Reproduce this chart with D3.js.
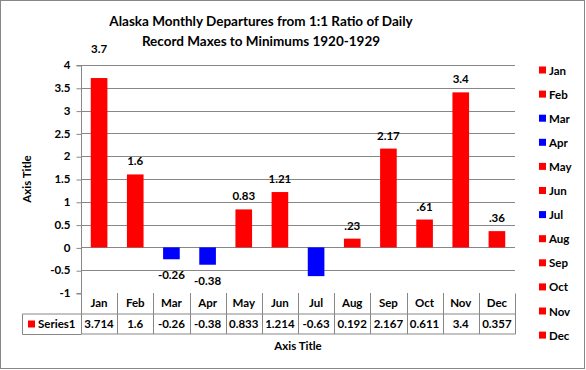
<!DOCTYPE html>
<html>
<head>
<meta charset="utf-8">
<script src="https://cdn.jsdelivr.net/npm/d3@7"></script>
<style>
  body { margin: 0; background: #fff; }
  text { font-family: Lato, "Open Sans", sans-serif; font-weight: bold; fill: #000; }
</style>
</head>
<body>
<svg width="586" height="370"></svg>
<script>
var months = ["Jan", "Feb", "Mar", "Apr", "May", "Jun", "Jul", "Aug", "Sep", "Oct", "Nov", "Dec"];
var values = [3.714, 1.6, -0.26, -0.38, 0.833, 1.214, -0.63, 0.192, 2.167, 0.611, 3.4, 0.357];
var labels = ["3.7", "1.6", "-0.26", "-0.38", "0.83", "1.21", "", ".23", "2.17", ".61", "3.4", ".36"];
var yTicks = [-1, -0.5, 0, 0.5, 1, 1.5, 2, 2.5, 3, 3.5, 4];
var titleLines = ["Alaska Monthly Departures from 1:1 Ratio of Daily", "Record Maxes to Minimums 1920-1929"];
var seriesName = "Series1";

var svg = d3.select("svg"),
    margin = {top: 65, left: 81, right: 71, bottom: 77},
    width = 586 - margin.left - margin.right,
    height = 370 - margin.top - margin.bottom,
    grid = "#878787";

var color = function (v) { return v < 0 ? "#0000ff" : "#ff0000"; };

// outer frame
svg.append("rect")
    .attr("x", 0.5).attr("y", 0.5)
    .attr("width", 584).attr("height", 368)
    .attr("fill", "#fff")
    .attr("stroke", grid);

// title
svg.append("g").selectAll("text")
    .data(titleLines)
    .enter().append("text")
    .attr("x", 261)
    .attr("y", function (d, i) { return 26 + i * 20; })
    .attr("text-anchor", "middle")
    .style("font-size", "13.5px")
    .text(function (d) { return d; });

var g = svg.append("g").attr("transform", "translate(" + margin.left + "," + margin.top + ")");

var x = d3.scaleBand().domain(months).range([0, width]).paddingInner(0.54).paddingOuter(0.27),
    xCell = d3.scaleBand().domain(months).range([0, width]),
    y = d3.scaleLinear().domain([-1, 4]).range([height, 0]);

// gridlines
g.append("g").selectAll("line")
    .data(yTicks.slice(1))
    .enter().append("line")
    .attr("x1", 0).attr("x2", width)
    .attr("y1", function (d) { return Math.round(y(d)) + 0.5; })
    .attr("y2", function (d) { return Math.round(y(d)) + 0.5; })
    .attr("stroke", grid);

// y axis
var yAxis = d3.axisLeft(y).tickValues(yTicks).tickSize(5).tickPadding(6)
    .tickFormat(function (d) { return String(d); });
var gY = g.append("g").attr("transform", "translate(0.5,0)").call(yAxis);
gY.selectAll("path, line").attr("stroke", grid);
gY.select(".domain").attr("d", "M-5," + (height + 0.5) + "H0V0.5H-5");
gY.selectAll("text").style("font-size", "11.5px").style("font-family", null);
gY.selectAll(".tick line").attr("transform", "translate(0,0.5)");

svg.append("text")
    .attr("transform", "translate(31," + (margin.top + y(1.5)) + ") rotate(-90)")
    .attr("text-anchor", "middle")
    .style("font-size", "11.5px")
    .text("Axis Title");

// bars
g.append("g").selectAll("rect")
    .data(values)
    .enter().append("rect")
    .attr("x", function (d, i) { return x(months[i]); })
    .attr("width", x.bandwidth())
    .attr("y", function (d) { return y(Math.max(0, d)); })
    .attr("height", function (d) { return Math.abs(y(d) - y(0)); })
    .attr("fill", color);

// data labels
g.append("g").selectAll("text")
    .data(values)
    .enter().append("text")
    .attr("x", function (d, i) { return xCell(months[i]) + xCell.bandwidth() / 2; })
    .attr("y", function (d, i) {
        if (d < 0) return y(d) + 20;
        return y(d) - (i === 0 ? 25 : 9);
    })
    .attr("text-anchor", "middle")
    .style("font-size", "11.5px")
    .text(function (d, i) { return labels[i]; });

// data table
var rowH = 20.5;
var table = g.append("g").attr("transform", "translate(0," + height + ")");
var tl = table.append("g").attr("stroke", grid).attr("fill", "none");
tl.append("path")
    .attr("d", "M0.5,0.5V" + (2 * rowH) + "H" + (width + 0.5) + "V0.5" +
        "M" + (-58.5) + "," + (rowH + 0.5) + "H" + (width + 0.5) +
        "M" + (-58.5) + "," + (rowH + 0.5) + "V" + (2 * rowH + 0.5) + "H0.5");
tl.selectAll("line")
    .data(months.slice(1))
    .enter().append("line")
    .attr("x1", function (d) { return Math.round(xCell(d)) + 0.5; })
    .attr("x2", function (d) { return Math.round(xCell(d)) + 0.5; })
    .attr("y1", 0).attr("y2", 2 * rowH);

table.append("g").selectAll("text")
    .data(months)
    .enter().append("text")
    .attr("x", function (d) { return xCell(d) + xCell.bandwidth() / 2; })
    .attr("y", rowH / 2 + 4)
    .attr("text-anchor", "middle")
    .style("font-size", "11.5px")
    .text(function (d) { return d; });

table.append("g").selectAll("text")
    .data(values)
    .enter().append("text")
    .attr("x", function (d, i) { return xCell(months[i]) + xCell.bandwidth() / 2; })
    .attr("y", rowH * 1.5 + 4.5)
    .attr("text-anchor", "middle")
    .style("font-size", "11.5px")
    .text(function (d) { return String(d); });

table.append("rect")
    .attr("x", -53).attr("y", rowH + 7)
    .attr("width", 7).attr("height", 7)
    .attr("fill", "#ff0000");
table.append("text")
    .attr("x", -43).attr("y", rowH * 1.5 + 4.5)
    .style("font-size", "11.5px")
    .text(seriesName);

svg.append("text")
    .attr("x", margin.left + width / 2)
    .attr("y", 350)
    .attr("text-anchor", "middle")
    .style("font-size", "11.5px")
    .text("Axis Title");

// legend
var legend = svg.append("g").attr("transform", "translate(539,70)");
var rows = legend.selectAll("g")
    .data(months)
    .enter().append("g")
    .attr("transform", function (d, i) { return "translate(0," + (i * 24.1) + ")"; });
rows.append("rect")
    .attr("x", 0).attr("y", -3.5)
    .attr("width", 7).attr("height", 7)
    .attr("fill", function (d, i) { return color(values[i]); });
rows.append("text")
    .attr("x", 10).attr("y", 4.5)
    .style("font-size", "11.5px")
    .text(function (d) { return d; });
</script>
</body>
</html>
